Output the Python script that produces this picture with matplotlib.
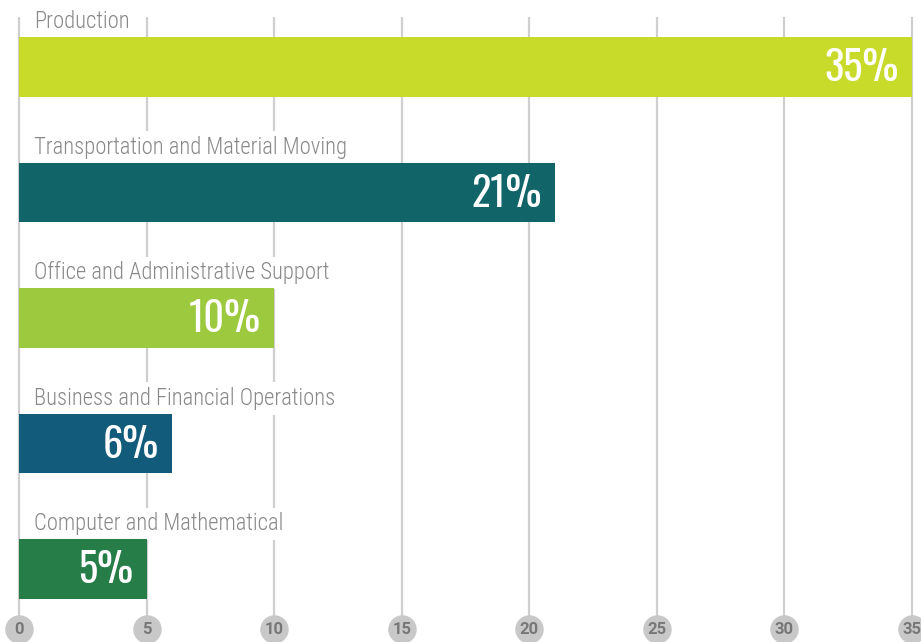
import numpy as np
import matplotlib.pyplot as plt

# ── data ──────────────────────────────────────────────
categories = ["Production",
              "Transportation and Material Moving",
              "Office and Administrative Support",
              "Business and Financial Operations",
              "Computer and Mathematical"]
values = [35, 21, 10, 6, 5]
bar_colors = ["#c9db2a", "#116468", "#9dc93f", "#125b7a", "#267d48"]
ticks = [0, 5, 10, 15, 20, 25, 30, 35]

LABEL_FONT = ['Roboto Condensed', 'Barlow Condensed', 'DejaVu Sans']
VALUE_FONT = ['Oswald', 'Antonio', 'DejaVu Sans']
TICK_FONT = ['Roboto', 'DejaVu Sans']

fig = plt.figure(figsize=(9.21, 6.42), dpi=100)
ax = fig.add_axes([0, 0, 1, 1])

# pixel mapping: x=0 -> 19px, x=35 -> 912px ; bar rows every 125.5px from 67px
unit = 893 / 35
ax.set_xlim(-19 / unit, (921 - 19) / unit)
ax.set_ylim((642 - 67) / 125.5, -67 / 125.5)
ax.axis('off')

# vertical gridlines
ax.vlines(ticks, -0.40, 4.48, color='#cfcfcf', linewidth=1.6, zorder=0)

ypos = np.arange(len(categories))
ax.barh(ypos, values, height=0.478, color=bar_colors, zorder=4)

for y, cat, v in zip(ypos, categories, values):
    # white box behind label hides the gridlines
    ax.text(0.6, y - 0.36, cat, ha='left', va='center', fontsize=16.3,
            color='#888888', family=LABEL_FONT, fontweight='light', zorder=3,
            bbox=dict(facecolor='white', edgecolor='none', pad=3.5))
    ax.text(v - 0.52, y + 0.01, f"{v}%", ha='right', va='center', fontsize=29,
            color='white', family=VALUE_FONT, fontweight=200, zorder=5)

# tick bubbles along the bottom
tick_y = 4.48
ax.scatter(ticks, [tick_y] * len(ticks), s=420, color='#c8c8c8', zorder=3,
           clip_on=False, linewidths=0)
for t in ticks:
    ax.text(t, tick_y + 0.005, str(t), ha='center', va='center', fontsize=12,
            fontweight='bold', color='#777777', family=TICK_FONT, zorder=4)

fig.savefig('out.png', dpi=100)
